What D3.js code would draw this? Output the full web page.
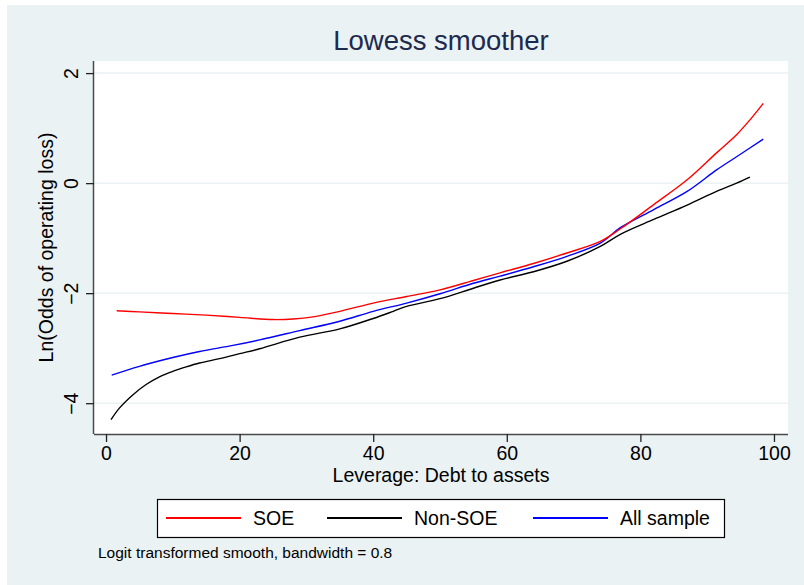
<!DOCTYPE html>
<html>
<head>
<meta charset="utf-8">
<script src="https://cdn.jsdelivr.net/npm/d3@7"></script>
<style>
  html, body { margin: 0; padding: 0; background: #ffffff; }
  svg { display: block; font-family: "Liberation Sans", Arial, sans-serif; }
</style>
</head>
<body>
<svg id="chart" width="804" height="585"></svg>
<script>
// ---- Data ----
const soeX = [1.6, 5, 10, 15, 20, 25, 28, 31, 35, 40, 45, 50, 55, 59, 64, 69, 74, 77, 82, 87, 91.4, 94.4, 96.4, 98.4];
const soeY = [-2.32, -2.34, -2.37, -2.40, -2.44, -2.48, -2.47, -2.43, -2.33, -2.18, -2.06, -1.94, -1.77, -1.63, -1.46, -1.27, -1.06, -0.83, -0.39, 0.06, 0.55, 0.88, 1.15, 1.45];

const nonSoeX = [0.75, 2, 4, 6, 8, 10, 12, 14, 17, 20, 23, 29, 35, 40, 43, 45, 50, 55, 59, 64, 69, 74, 77, 82, 87, 91.4, 94.4, 96.4];
const nonSoeY = [-4.30, -4.09, -3.85, -3.66, -3.52, -3.42, -3.34, -3.27, -3.19, -3.10, -3.01, -2.80, -2.65, -2.46, -2.33, -2.24, -2.10, -1.91, -1.76, -1.61, -1.42, -1.15, -0.93, -0.66, -0.40, -0.15, 0.00, 0.11];

const allX = [0.85, 5, 10, 14, 19, 23, 29, 35, 40, 45, 50, 55, 59, 64, 69, 74, 77, 82, 87, 91.4, 94.4, 98.4];
const allY = [-3.49, -3.33, -3.17, -3.06, -2.95, -2.85, -2.68, -2.51, -2.33, -2.18, -2.01, -1.82, -1.69, -1.52, -1.33, -1.09, -0.81, -0.48, -0.15, 0.24, 0.48, 0.80];

const xTicks = [0, 20, 40, 60, 80, 100];
const yTicks = [-4, -2, 0, 2];
const seriesNames = ["SOE", "Non-SOE", "All sample"];
const seriesColors = ["#ff0000", "#000000", "#0000ff"];

const titleText = "Lowess smoother";
const xTitle = "Leverage: Debt to assets";
const yTitle = "Ln(Odds of operating loss)";
const noteText = "Logit transformed smooth, bandwidth = 0.8";

// ---- Layout ----
const svg = d3.select("#chart");
const plot = { left: 94, right: 788, top: 61, bottom: 434 };
const bg = "#eaf2f3";

svg.append("rect").attr("x", 7).attr("y", 5).attr("width", 797).attr("height", 580).attr("fill", bg);
svg.append("rect").attr("x", plot.left).attr("y", plot.top)
  .attr("width", plot.right - plot.left).attr("height", plot.bottom - plot.top).attr("fill", "#ffffff");

const x = d3.scaleLinear().domain([-1.8, 102.1]).range([plot.left, plot.right]);
const y = d3.scaleLinear().domain([-4.56, 2.22]).range([plot.bottom, plot.top]);

// grid lines
svg.append("g").selectAll("line").data(yTicks).join("line")
  .attr("x1", plot.left).attr("x2", plot.right)
  .attr("y1", d => y(d)).attr("y2", d => y(d))
  .attr("stroke", bg).attr("stroke-width", 1.5);

// axes
const fmt = d => d3.format("d")(d);
const xAxis = svg.append("g").attr("transform", `translate(0,${plot.bottom})`)
  .call(d3.axisBottom(x).tickValues(xTicks).tickSize(8).tickPadding(4).tickFormat(fmt));
xAxis.select(".domain").attr("stroke", "#4a4a4a").attr("stroke-width", 1.5)
  .attr("d", `M${plot.left},0.5H${plot.right}`);
xAxis.selectAll(".tick line").attr("stroke", "#222").attr("stroke-width", 1.3);
xAxis.selectAll(".tick text").attr("font-size", 19.5).attr("fill", "#000")
  .attr("font-family", "Liberation Sans, Arial, sans-serif").attr("dy", "0.72em");

const yAxis = svg.append("g").attr("transform", `translate(${plot.left},0)`)
  .call(d3.axisLeft(y).tickValues(yTicks).tickSize(8).tickFormat(fmt));
yAxis.select(".domain").attr("stroke", "#4a4a4a").attr("stroke-width", 1.5)
  .attr("d", `M-0.5,${plot.top}V${plot.bottom}`);
yAxis.selectAll(".tick line").attr("stroke", "#222").attr("stroke-width", 1.3);
yAxis.selectAll(".tick text")
  .attr("font-size", 19.5).attr("fill", "#000")
  .attr("font-family", "Liberation Sans, Arial, sans-serif")
  .attr("x", null).attr("dy", null)
  .attr("text-anchor", "middle")
  .attr("transform", "translate(-16,0) rotate(-90)");

// series
const series = [
  { xs: soeX, ys: soeY },
  { xs: nonSoeX, ys: nonSoeY },
  { xs: allX, ys: allY }
];
const line = d3.line().x(d => x(d[0])).y(d => y(d[1])).curve(d3.curveCatmullRom.alpha(0.5));
// draw black first, then blue, then red on top
[1, 2, 0].forEach(i => {
  const s = series[i];
  svg.append("path")
    .datum(s.xs.map((v, k) => [v, s.ys[k]]))
    .attr("fill", "none").attr("stroke", seriesColors[i])
    .attr("stroke-width", 1.4).attr("stroke-linejoin", "round")
    .attr("d", line);
});

// title
svg.append("text").attr("x", (plot.left + plot.right) / 2).attr("y", 50)
  .attr("text-anchor", "middle").attr("font-size", 27.5).attr("fill", "#1c2a4e")
  .text(titleText);

// axis titles
svg.append("text").attr("x", (plot.left + plot.right) / 2).attr("y", 482)
  .attr("text-anchor", "middle").attr("font-size", 19.5).attr("fill", "#000")
  .text(xTitle);
svg.append("text")
  .attr("transform", `translate(53,${(plot.top + plot.bottom) / 2}) rotate(-90)`)
  .attr("text-anchor", "middle").attr("font-size", 19.5).attr("fill", "#000")
  .text(yTitle);

// legend
const lg = svg.append("g");
lg.append("rect").attr("x", 157.5).attr("y", 499.5).attr("width", 567).attr("height", 38)
  .attr("fill", "#ffffff").attr("stroke", "#000").attr("stroke-width", 1.2);
const legendPos = [
  { x1: 166, x2: 241, tx: 253 },
  { x1: 327, x2: 402, tx: 414 },
  { x1: 533, x2: 608, tx: 620 }
];
seriesNames.forEach((name, i) => {
  const p = legendPos[i];
  lg.append("line").attr("x1", p.x1).attr("x2", p.x2).attr("y1", 518).attr("y2", 518)
    .attr("stroke", seriesColors[i]).attr("stroke-width", 2);
  lg.append("text").attr("x", p.tx).attr("y", 525).attr("font-size", 19.5).attr("fill", "#000")
    .text(name);
});

// note
svg.append("text").attr("x", 98).attr("y", 558).attr("font-size", 15.5).attr("fill", "#000")
  .text(noteText);
</script>
</body>
</html>
